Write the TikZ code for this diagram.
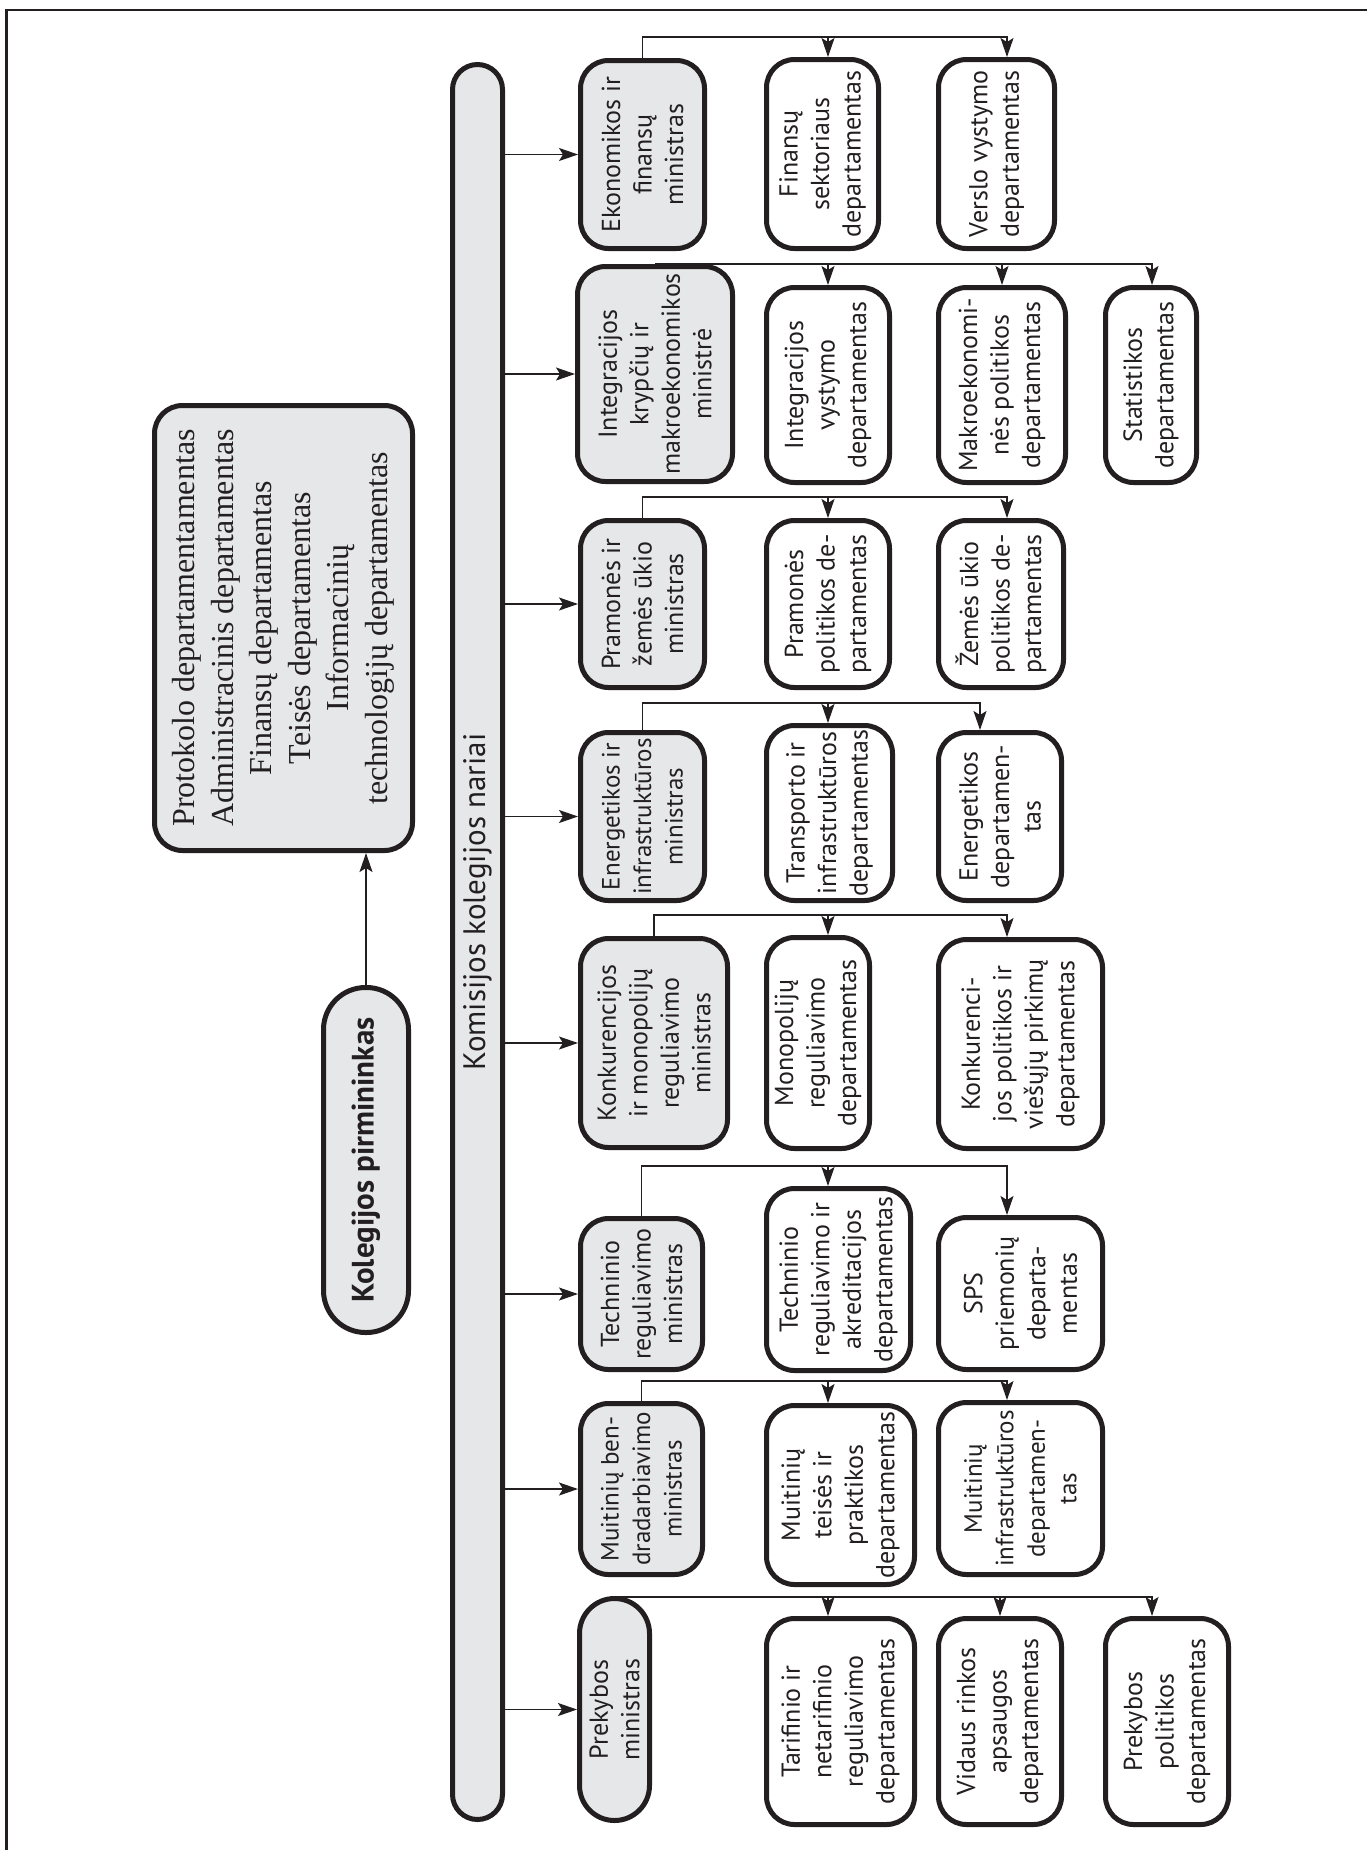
\documentclass[tikz,border=0pt]{standalone}
\usepackage{fontspec}
\setmainfont{Liberation Serif}
\newfontfamily\ptsans{PT Sans}
\usetikzlibrary{arrows.meta}
\definecolor{ink}{HTML}{231F20}
\definecolor{boxgray}{HTML}{E6E7E8}
\newcommand\setfs[2]{\fontsize{#1}{#2}\selectfont}
\begin{document}
\begin{tikzpicture}[x=1pt,y=-1pt,
  box/.style={draw=ink, line width=5pt, rounded corners=28pt, align=center,
    inner sep=0pt, rotate=90, text=ink, font=\ptsans\setfs{26pt}{31.5pt}},
  tight/.style={font=\ptsans\setfs{25pt}{31.5pt}},
  mbox/.style={box, fill=boxgray},
  dbox/.style={box, fill=white},
  dims/.style 2 args={minimum width=#1pt, minimum height=#2pt},
  link/.style={draw=ink, line width=1.3pt},
  arr/.style={draw=ink, line width=1.3pt, -{Stealth[length=19pt,width=13pt,inset=4pt]}}]
\useasboundingbox (0,0) rectangle (1367,1850);
% frame (only top and left edges visible)
\draw[ink, line width=2.2pt] (6.5,1850) -- (6.5,10) -- (1367,10);

% chairman and staff
\node[mbox, dims={445}{258}, font=\setfs{32pt}{38.5pt}] (P) at (283.5,628)
  {Protokolo departamentamentas\\Administracinis departamentas\\Finansų departamentas\\Teisės departamentas\\Informacinių\\technologijų departamentas};
\node[mbox, dims={345}{85}, rounded corners=42pt, font=\ptsans\bfseries\setfs{31pt}{36pt}] (K) at (366,1160) {Kolegijos pirmininkas};
\draw[arr] (K.east) -- (K.east |- P.west);

% bar
\node[mbox, dims={1755}{50}, rounded corners=25pt, font=\ptsans\setfs{31pt}{36pt}] (bar) at (477.5,942)
  {\hspace*{80pt}Komisijos kolegijos nariai};

% ministers
\node[mbox, dims={188}{124}] (m1) at (642.5,154.5) {Ekonomikos ir\\finansų\\ministras};
\node[mbox, dims={215}{155}] (m2) at (655,374) {Integracijos\\krypčių ir\\makroekonomikos\\ministrė};
\node[mbox, dims={167}{124}] (m3) at (642.5,604) {Pramonės ir\\žemės ūkio\\ministras};
\node[mbox, dims={168}{124}, tight] (m4) at (642.5,816.5) {Energetikos ir\\infrastruktūros\\ministras};
\node[mbox, dims={209}{147}] (m5) at (654,1043) {Konkurencijos\\ir monopolijų\\reguliavimo\\ministras};
\node[mbox, dims={151}{122}] (m6) at (641.5,1294) {Techninio\\reguliavimo\\ministras};
\node[mbox, dims={171}{122}, tight] (m7) at (641.5,1489) {Muitinių ben-\\dradarbiavimo\\ministras};
\node[mbox, dims={222}{70}, rounded corners=35pt] (m8) at (614.5,1709.5) {Prekybos\\ministras};

\foreach \m in {m1,m2,m3,m4,m5,m6,m7,m8}
  \draw[arr] (bar.south |- \m.north) -- (\m.north);

% departments
\node[dbox, dims={189}{112}] (d11) at (822.5,154) {Finansų\\sektoriaus\\departamentas};
\node[dbox, dims={189}{116}] (d12) at (996.5,154) {Verslo vystymo\\departamentas};
\node[dbox, dims={195}{123}] (d21) at (828,385) {Integracijos\\vystymo\\departamentas};
\node[dbox, dims={195}{127}] (d22) at (1002,385) {Makroekonomi-\\nės politikos\\departamentas};
\node[dbox, dims={195}{91}] (d23) at (1151,385) {Statistikos\\departamentas};
\node[dbox, dims={167}{123}] (d31) at (828,604) {Pramonės\\politikos de-\\partamentas};
\node[dbox, dims={167}{125}] (d32) at (1001,604) {Žemės ūkio\\politikos de-\\partamentas};
\node[dbox, dims={175}{126}] (d41) at (829.5,813) {Transporto ir\\infrastruktūros\\departamentas};
\node[dbox, dims={168}{123}] (d42) at (1000,816.5) {Energetikos\\departamen-\\tas};
\node[dbox, dims={211}{103}] (d51) at (818,1043) {Monopolijų\\reguliavimo\\departamentas};
\node[dbox, dims={209}{164}] (d52) at (1020.5,1044) {Konkurenci-\\jos politikos ir\\viešųjų pirkimų\\departamentas};
\node[dbox, dims={182}{144}] (d61) at (838.5,1279.5) {Techninio\\reguliavimo ir\\akreditacijos\\departamentas};
\node[dbox, dims={152}{164}] (d62) at (1020.5,1293.5) {SPS\\priemonių\\departa-\\mentas};
\node[dbox, dims={179}{148}] (d71) at (840.5,1495) {Muitinių\\teisės ir\\praktikos\\departamentas};
\node[dbox, dims={172}{164}, tight] (d72) at (1020.5,1488.5) {Muitinių\\infrastruktūros\\departamen-\\tas};
\node[dbox, dims={206}{148}] (d81) at (840.5,1721.5) {Tarifinio ir\\netarifinio\\reguliavimo\\departamentas};
\node[dbox, dims={206}{123}] (d82) at (1000,1721.5) {Vidaus rinkos\\apsaugos\\departamentas};
\node[dbox, dims={206}{123}] (d83) at (1167,1721.5) {Prekybos\\politikos\\departamentas};

% bus lines
\coordinate (colA) at (828,0);
\coordinate (colB) at (1007,0);
\coordinate (colBe) at (980,0);
\coordinate (colC) at (1152,0);
\coordinate (b1) at (0,37);
\coordinate (b2) at (0,264);
\coordinate (b3) at (0,497);
\coordinate (b4) at (0,703);
\coordinate (b5) at (0,915);
\coordinate (b6) at (0,1166);
\coordinate (b7) at (0,1381);
\coordinate (b8) at (0,1597);

\draw[arr] (m1.east) |- (colA |- b1) -- (colA |- d11.east);
\draw[arr] (colA |- b1) -- (colB |- b1) -- (colB |- d12.east);

\draw[arr] (m2.east) |- (colA |- b2) -- (colA |- d21.east);
\draw[arr] (colA |- b2) -- (d22.east |- b2) -- (d22.east);
\draw[arr] (d22.east |- b2) -- (colC |- b2) -- (colC |- d23.east);

\draw[arr] (m3.east) |- (colA |- b3) -- (colA |- d31.east);
\draw[arr] (colA |- b3) -- (colB |- b3) -- (colB |- d32.east);

\draw[arr] (m4.east) |- (colA |- b4) -- (colA |- d41.east);
\draw[arr] (colA |- b4) -- (colBe |- b4) -- (colBe |- d42.east);

\draw[arr] (m5.east) |- (colA |- b5) -- (colA |- d51.east);
\draw[arr] (colA |- b5) -- (colB |- b5) -- (colB |- d52.east);

\draw[arr] (m6.east) |- (colA |- b6) -- (colA |- d61.east);
\draw[arr] (colA |- b6) -- (colB |- b6) -- (colB |- d62.east);

\draw[arr] (m7.east) |- (colA |- b7) -- (colA |- d71.east);
\draw[arr] (colA |- b7) -- (colB |- b7) -- (colB |- d72.east);

\draw[arr] (m8.east) |- (colA |- b8) -- (colA |- d81.east);
\draw[arr] (colA |- b8) -- (d82.east |- b8) -- (d82.east);
\draw[arr] (d82.east |- b8) -- (colC |- b8) -- (colC |- d83.east);
\end{tikzpicture}
\end{document}
